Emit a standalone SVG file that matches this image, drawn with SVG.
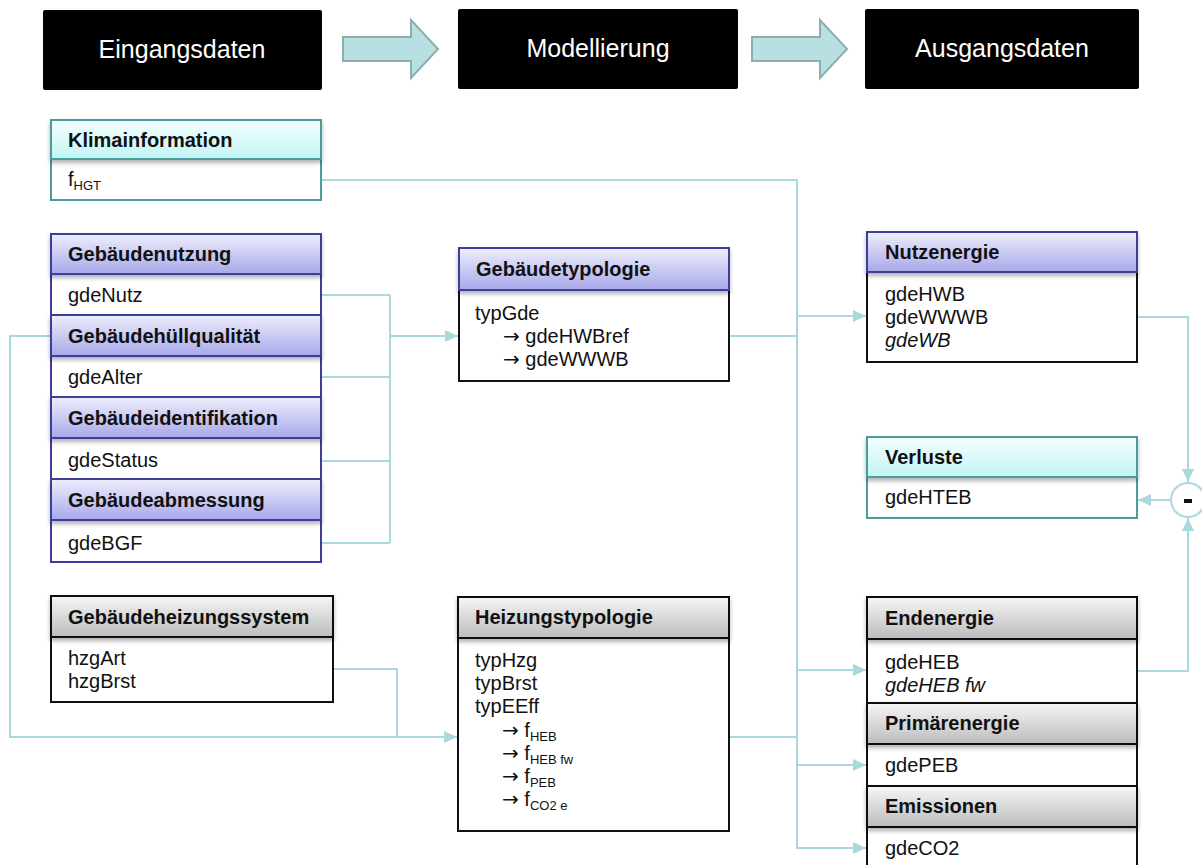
<svg xmlns="http://www.w3.org/2000/svg" width="1202" height="865" viewBox="0 0 1202 865">
  <defs>
    <linearGradient id="gPurple" x1="0" y1="0" x2="0" y2="1">
      <stop offset="0" stop-color="#eeeefd"/>
      <stop offset="1" stop-color="#a8a8ea"/>
    </linearGradient>
    <linearGradient id="gCyan" x1="0" y1="0" x2="0" y2="1">
      <stop offset="0" stop-color="#f4ffff"/>
      <stop offset="1" stop-color="#c2f4f4"/>
    </linearGradient>
    <linearGradient id="gGray" x1="0" y1="0" x2="0" y2="1">
      <stop offset="0" stop-color="#f6f6f6"/>
      <stop offset="1" stop-color="#bcbcbc"/>
    </linearGradient>
    <filter id="shadow" x="-5%" y="-20%" width="110%" height="160%">
      <feDropShadow dx="0" dy="3" stdDeviation="2" flood-color="#000" flood-opacity="0.3"/>
    </filter>
    <marker id="arrow" markerUnits="userSpaceOnUse" markerWidth="14" markerHeight="12" refX="13" refY="6" orient="auto">
      <path d="M0,0 L13,6 L0,12 z" fill="#a9d9dc"/>
    </marker>
  </defs>
  <style>
    text { font-family: "Liberation Sans", Arial, sans-serif; fill: #111; }
    .title { font-size: 25px; fill: #fff; text-anchor: middle; }
    .hd { font-size: 20px; font-weight: bold; }
    .tx { font-size: 20px; }
    .it { font-style: italic; }
    .sub { font-size: 13px; }
    .arr { font-family: "DejaVu Sans", sans-serif; font-size: 20px; }
    .banner { fill: #000; }
    .fat { fill: #b8e0e2; stroke: #8eaeae; stroke-width: 2; }
    .body { fill: #fff; stroke-width: 2; }
    .hp { fill: url(#gPurple); stroke: #3c3c9c; stroke-width: 2; filter: url(#shadow); }
    .hc { fill: url(#gCyan); stroke: #4c9c9c; stroke-width: 2; filter: url(#shadow); }
    .hg { fill: url(#gGray); stroke: #111; stroke-width: 2; filter: url(#shadow); }
    .bp { stroke: #3c3c9c; }
    .bc { stroke: #4c9c9c; }
    .bg { stroke: #111; }
    .wire { fill: none; stroke: #a9d9dc; stroke-width: 2; }
    .wa { fill: none; stroke: #a9d9dc; stroke-width: 2; marker-end: url(#arrow); }
  </style>

  <rect width="1202" height="865" fill="#fff"/>

  <!-- stage banners -->
  <g id="stage-input">
    <rect class="banner" x="43" y="10" width="279" height="80" rx="2"/>
    <text class="title" x="182" y="58">Eingangsdaten</text>
  </g>
  <g id="stage-model">
    <rect class="banner" x="458" y="9" width="280" height="80" rx="2"/>
    <text class="title" x="598" y="57">Modellierung</text>
  </g>
  <g id="stage-output">
    <rect class="banner" x="865" y="9" width="274" height="80" rx="2"/>
    <text class="title" x="1002" y="57">Ausgangsdaten</text>
  </g>
  <g id="stage-arrows">
    <path class="fat" d="M343,37 H411 V20 L438,49 L411,78 V61 H343 z"/>
    <path class="fat" d="M752,37 H820 V20 L847,49 L820,78 V61 H752 z"/>
  </g>

  <!-- connectors -->
  <g id="connectors">
    <!-- climate feed and output bus -->
    <path class="wa" d="M321,180 H797 V848 H866"/>
    <path class="wa" d="M797,316 H866"/>
    <path class="wire" d="M729,336 H797"/>
    <path class="wa" d="M797,670 H866"/>
    <path class="wire" d="M729,737 H797"/>
    <path class="wa" d="M797,765 H866"/>
    <!-- building inputs to building typology -->
    <path class="wire" d="M321,295 H390 M321,377 H390 M321,461 H390 M321,543 H390 M390,295 V543"/>
    <path class="wa" d="M390,336 H458"/>
    <!-- envelope quality and heating system to heating typology -->
    <path class="wa" d="M51,336 H10 V737 H457"/>
    <path class="wire" d="M333,669 H397 V737"/>
    <!-- useful energy minus final energy gives losses -->
    <path class="wa" d="M1137,317 H1188 V482"/>
    <path class="wa" d="M1137,671 H1188 V518"/>
    <path class="wa" d="M1171,500 H1138"/>
    <circle cx="1188" cy="500" r="17" fill="#fff" stroke="#a9d9dc" stroke-width="2"/>
    <rect x="1184" y="499" width="8" height="4" fill="#111"/>
  </g>

  <!-- input nodes -->
  <g id="klimainformation">
    <rect class="body bc" x="51" y="159" width="270" height="41"/>
    <rect class="hc" x="51" y="120" width="270" height="39"/>
    <text class="hd" x="68" y="147">Klimainformation</text>
    <text class="tx" x="68" y="186">f<tspan class="sub" dy="4">HGT</tspan></text>
  </g>
  <g id="gebaeudenutzung">
    <rect class="body bp" x="51" y="274" width="270" height="41"/>
    <rect class="hp" x="51" y="234" width="270" height="40"/>
    <text class="hd" x="68" y="261">Gebäudenutzung</text>
    <text class="tx" x="68" y="302">gdeNutz</text>
  </g>
  <g id="gebaeudehuellqualitaet">
    <rect class="body bp" x="51" y="356" width="270" height="41"/>
    <rect class="hp" x="51" y="315" width="270" height="41"/>
    <text class="hd" x="68" y="343">Gebäudehüllqualität</text>
    <text class="tx" x="68" y="384">gdeAlter</text>
  </g>
  <g id="gebaeudeidentifikation">
    <rect class="body bp" x="51" y="438" width="270" height="41"/>
    <rect class="hp" x="51" y="397" width="270" height="41"/>
    <text class="hd" x="68" y="425">Gebäudeidentifikation</text>
    <text class="tx" x="68" y="467">gdeStatus</text>
  </g>
  <g id="gebaeudeabmessung">
    <rect class="body bp" x="51" y="520" width="270" height="42"/>
    <rect class="hp" x="51" y="479" width="270" height="41"/>
    <text class="hd" x="68" y="507">Gebäudeabmessung</text>
    <text class="tx" x="68" y="550">gdeBGF</text>
  </g>
  <g id="gebaeudeheizungssystem">
    <rect class="body bg" x="51" y="637" width="282" height="65"/>
    <rect class="hg" x="51" y="596" width="282" height="41"/>
    <text class="hd" x="68" y="624">Gebäudeheizungssystem</text>
    <text class="tx" x="68" y="665">hzgArt</text>
    <text class="tx" x="68" y="688">hzgBrst</text>
  </g>

  <!-- model nodes -->
  <g id="gebaeudetypologie">
    <rect class="body bg" x="459" y="290" width="270" height="91"/>
    <rect class="hp" x="459" y="248" width="270" height="42"/>
    <text class="hd" x="476" y="276">Gebäudetypologie</text>
    <text class="tx" x="475" y="320">typGde</text>
    <text class="tx" x="503" y="343"><tspan class="arr">→</tspan> gdeHWBref</text>
    <text class="tx" x="503" y="366"><tspan class="arr">→</tspan> gdeWWWB</text>
  </g>
  <g id="heizungstypologie">
    <rect class="body bg" x="458" y="638" width="271" height="193"/>
    <rect class="hg" x="458" y="597" width="271" height="41"/>
    <text class="hd" x="475" y="624">Heizungstypologie</text>
    <text class="tx" x="475" y="667">typHzg</text>
    <text class="tx" x="475" y="690">typBrst</text>
    <text class="tx" x="475" y="713">typEEff</text>
    <text class="tx" x="502" y="737"><tspan class="arr">→</tspan> f<tspan class="sub" dy="4">HEB</tspan></text>
    <text class="tx" x="502" y="760"><tspan class="arr">→</tspan> f<tspan class="sub" dy="4">HEB fw</tspan></text>
    <text class="tx" x="502" y="783"><tspan class="arr">→</tspan> f<tspan class="sub" dy="4">PEB</tspan></text>
    <text class="tx" x="502" y="806"><tspan class="arr">→</tspan> f<tspan class="sub" dy="4">CO2 e</tspan></text>
  </g>

  <!-- output nodes -->
  <g id="nutzenergie">
    <rect class="body bg" x="867" y="272" width="270" height="90"/>
    <rect class="hp" x="867" y="232" width="270" height="40"/>
    <text class="hd" x="885" y="259">Nutzenergie</text>
    <text class="tx" x="885" y="301">gdeHWB</text>
    <text class="tx" x="885" y="324">gdeWWWB</text>
    <text class="tx it" x="885" y="347">gdeWB</text>
  </g>
  <g id="verluste">
    <rect class="body bc" x="867" y="477" width="270" height="41"/>
    <rect class="hc" x="867" y="437" width="270" height="40"/>
    <text class="hd" x="885" y="464">Verluste</text>
    <text class="tx" x="885" y="504">gdeHTEB</text>
  </g>
  <g id="endenergie">
    <rect class="body bg" x="867" y="639" width="270" height="64"/>
    <rect class="hg" x="867" y="597" width="270" height="42"/>
    <text class="hd" x="885" y="625">Endenergie</text>
    <text class="tx" x="885" y="669">gdeHEB</text>
    <text class="tx it" x="885" y="692">gdeHEB fw</text>
  </g>
  <g id="primaerenergie">
    <rect class="body bg" x="867" y="744" width="270" height="42"/>
    <rect class="hg" x="867" y="703" width="270" height="41"/>
    <text class="hd" x="885" y="730">Primärenergie</text>
    <text class="tx" x="885" y="772">gdePEB</text>
  </g>
  <g id="emissionen">
    <rect class="body bg" x="867" y="827" width="270" height="50"/>
    <rect class="hg" x="867" y="786" width="270" height="41"/>
    <text class="hd" x="885" y="813">Emissionen</text>
    <text class="tx" x="885" y="855">gdeCO2</text>
  </g>
</svg>
